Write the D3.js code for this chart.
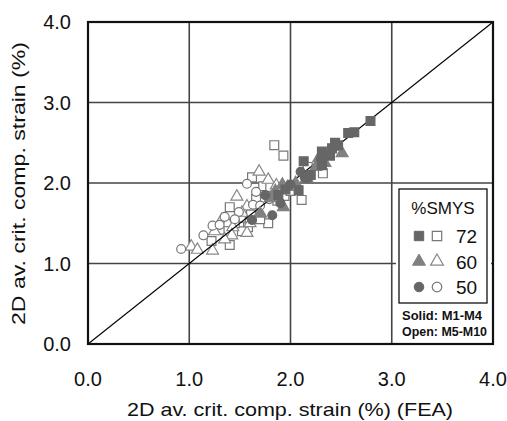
<!DOCTYPE html>
<html>
<head>
<meta charset="utf-8">
<script src="https://cdn.jsdelivr.net/npm/d3@7"></script>
<style>
  body { margin: 0; background: #fff; }
  text { font-family: "Liberation Sans", Arial, sans-serif; }
</style>
</head>
<body>
<svg id="chart" width="507" height="421"></svg>
<script>
// ── data ──────────────────────────────────────────────────────────────
const xTicks = [0, 1, 2, 3, 4];
const yTicks = [0, 1, 2, 3, 4];

// open markers: M5-M10
const open72 = [[1.22,1.28],[1.40,1.23],[1.40,1.70],[1.51,1.57],[1.58,1.45],[1.61,1.61],
  [1.78,1.50],[1.62,2.07],[1.73,1.96],[1.87,1.78],[1.94,1.84],[2.11,1.79],[2.17,2.20],
  [2.32,2.12],[1.93,2.34],[1.84,2.47],[1.30,1.42],[1.52,1.40],[1.70,1.55],[2.00,1.90],
  [1.66,1.80],[1.45,1.50],[1.80,1.95]];
const open60 = [[1.02,1.21],[1.08,1.17],[1.23,1.16],[1.32,1.54],[1.38,1.50],[1.43,1.45],
  [1.42,1.35],[1.47,1.83],[1.57,1.38],[1.57,1.71],[1.70,1.63],[1.69,2.14],[1.78,2.04],
  [1.52,1.63],[1.60,1.50],[1.25,1.40],[1.86,1.97],[1.35,1.30]];
const open50 = [[0.92,1.18],[1.14,1.35],[1.23,1.47],[1.35,1.58],[1.49,1.64],[1.63,1.73],
  [1.57,1.99],[1.66,1.89],[1.79,1.80],[1.30,1.48],[1.45,1.55],[1.70,1.72]];

// solid markers: M1-M4
const solid72 = [[2.79,2.77],[2.57,2.62],[2.63,2.63],[2.44,2.50],[2.47,2.47],[2.41,2.43],
  [2.39,2.34],[2.31,2.39],[2.13,2.27],[2.31,2.22],[2.08,1.91],[1.88,1.85],[2.20,2.10],[1.95,1.92]];
const solid60 = [[2.51,2.37],[2.28,2.31],[2.34,2.25],[2.16,2.06],[1.80,1.81],[1.93,1.70],
  [1.92,1.98],[1.97,1.95],[1.70,1.62],[2.45,2.45],[2.25,2.20],[2.05,2.00],[1.85,1.90]];
const solid50 = [[2.10,2.14],[2.14,2.07],[2.17,2.06],[1.75,1.85],[1.82,1.60],[1.62,1.54],
  [2.30,2.30],[1.90,1.75],[2.00,1.98]];

const legendRows = ["72", "60", "50"];

// ── layout ────────────────────────────────────────────────────────────
const svg = d3.select("#chart");
const pLeft = 88, pRight = 493, pTop = 22, pBottom = 344;

const x = d3.scaleLinear().domain([0, 4]).range([pLeft, pRight]);
const y = d3.scaleLinear().domain([0, 4]).range([pBottom, pTop]);

// grid lines
const grid = svg.append("g").attr("stroke", "#444").attr("stroke-width", 1.6);
grid.selectAll("line.gx").data(xTicks.slice(1, -1)).join("line")
  .attr("x1", d => x(d)).attr("x2", d => x(d)).attr("y1", pTop).attr("y2", pBottom);
grid.selectAll("line.gy").data(yTicks.slice(1, -1)).join("line")
  .attr("y1", d => y(d)).attr("y2", d => y(d)).attr("x1", pLeft).attr("x2", pRight);

// symbols
const shapes = { sq: d3.symbolSquare, tri: d3.symbolTriangle, circ: d3.symbolCircle };
const sizes = { sq: 78, tri: 62, circ: 62 };

function drawSeries(data, shape, fill, stroke) {
  svg.append("g").selectAll("path").data(data).join("path")
    .attr("transform", d => `translate(${x(d[0])},${y(d[1])})`)
    .attr("d", d3.symbol().type(shapes[shape]).size(sizes[shape]))
    .attr("fill", fill)
    .attr("stroke", stroke)
    .attr("stroke-width", 1.2);
}

drawSeries(open72, "sq", "#fff", "#777");
drawSeries(open60, "tri", "#fff", "#888");
drawSeries(open50, "circ", "#fff", "#777");

// 1:1 line
svg.append("line")
  .attr("x1", x(0)).attr("y1", y(0)).attr("x2", x(4)).attr("y2", y(4))
  .attr("stroke", "#000").attr("stroke-width", 1.1);

drawSeries(solid60, "tri", "#808080", "#808080");
drawSeries(solid72, "sq", "#666", "#666");
drawSeries(solid50, "circ", "#666", "#666");

// frame
svg.append("rect")
  .attr("x", pLeft).attr("y", pTop).attr("width", pRight - pLeft).attr("height", pBottom - pTop)
  .attr("fill", "none").attr("stroke", "#111").attr("stroke-width", 2.2);

// tick labels
svg.append("g").selectAll("text").data(xTicks).join("text")
  .attr("x", d => x(d)).attr("y", 386)
  .attr("text-anchor", "middle").attr("font-size", 20).attr("fill", "#111")
  .text(d => d.toFixed(1));
svg.append("g").selectAll("text").data(yTicks).join("text")
  .attr("x", 71).attr("y", d => y(d) + 7)
  .attr("text-anchor", "end").attr("font-size", 20).attr("fill", "#111")
  .text(d => d.toFixed(1));

// axis titles
svg.append("text").attr("x", 127).attr("y", 416)
  .attr("font-size", 19).attr("fill", "#111")
  .attr("textLength", 326).attr("lengthAdjust", "spacingAndGlyphs")
  .text("2D av. crit. comp. strain (%) (FEA)");
svg.append("text")
  .attr("transform", `translate(25,325) rotate(-90)`)
  .attr("font-size", 19).attr("fill", "#111")
  .attr("textLength", 283).attr("lengthAdjust", "spacingAndGlyphs")
  .text("2D av. crit. comp. strain (%)");

// legend
svg.append("rect").attr("x", 396).attr("y", 186).attr("width", 95).attr("height", 155)
  .attr("fill", "#fff");
svg.append("rect").attr("x", 399).attr("y", 189).attr("width", 88).attr("height", 114)
  .attr("fill", "#fff").attr("stroke", "#111").attr("stroke-width", 1.3);
svg.append("text").attr("x", 443).attr("y", 214).attr("text-anchor", "middle")
  .attr("font-size", 17).attr("fill", "#111").text("%SMYS");

const legShapes = ["sq", "tri", "circ"];
const legSolid = ["#666", "#808080", "#666"];
const legOpen = ["#777", "#888", "#777"];
const rowY = d3.scalePoint().domain(legendRows).range([236, 287]);
legendRows.forEach((r, i) => {
  const ry = rowY(r);
  svg.append("path").attr("transform", `translate(419,${ry})`)
    .attr("d", d3.symbol().type(shapes[legShapes[i]]).size(sizes[legShapes[i]] + 10))
    .attr("fill", legSolid[i]).attr("stroke", legSolid[i]);
  svg.append("path").attr("transform", `translate(437,${ry})`)
    .attr("d", d3.symbol().type(shapes[legShapes[i]]).size(sizes[legShapes[i]] + 10))
    .attr("fill", "#fff").attr("stroke", legOpen[i]).attr("stroke-width", 1.2);
  svg.append("text").attr("x", 456).attr("y", ry + 7)
    .attr("font-size", 19).attr("fill", "#111").text(r);
});

svg.append("text").attr("x", 402).attr("y", 320).attr("font-size", 12.5)
  .attr("font-weight", "bold").attr("fill", "#111")
  .attr("textLength", 80).attr("lengthAdjust", "spacingAndGlyphs").text("Solid: M1-M4");
svg.append("text").attr("x", 402).attr("y", 336).attr("font-size", 12.5)
  .attr("font-weight", "bold").attr("fill", "#111")
  .attr("textLength", 85).attr("lengthAdjust", "spacingAndGlyphs").text("Open: M5-M10");
</script>
</body>
</html>
